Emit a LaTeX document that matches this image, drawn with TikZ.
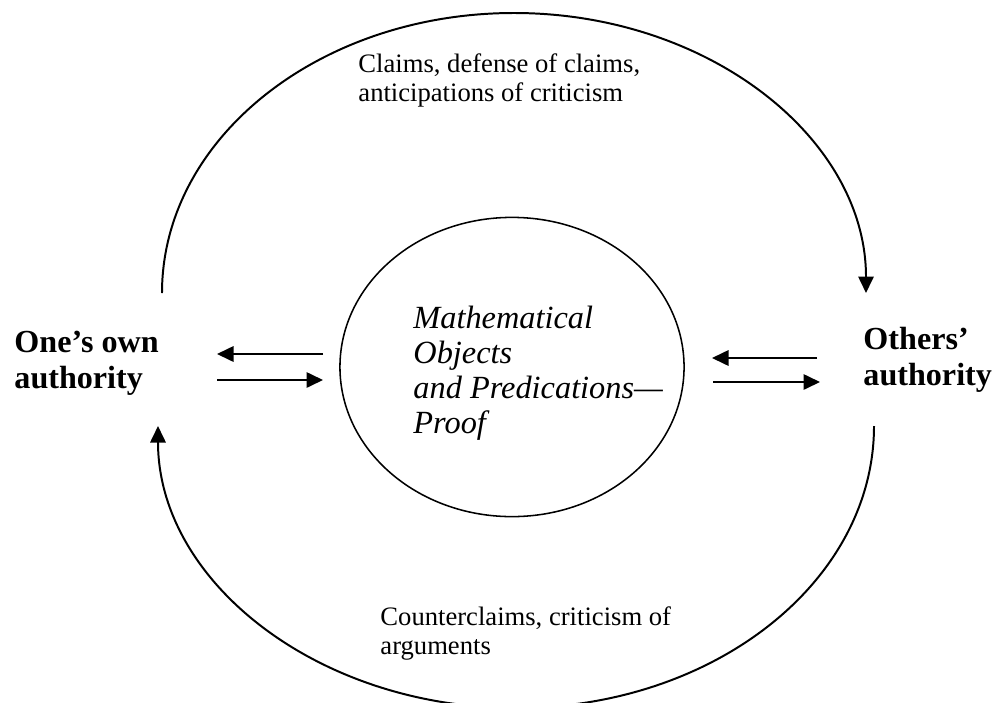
\documentclass[tikz,border=0pt]{standalone}
\usepackage{fontspec}
\setmainfont{Liberation Serif}
\usetikzlibrary{arrows.meta,shapes.geometric,positioning}
\tikzstyle{diag}=[x=0.4545pt, y=0.4545pt]
\tikzstyle{flow}=[-{Triangle[length=7.5pt,width=7pt]}, line width=0.9pt]
\tikzstyle{side}=[anchor=base west, align=left, inner sep=0,
                  font=\fontsize{14.6}{16}\selectfont\bfseries]
\tikzstyle{core}=[anchor=base west, align=left, inner sep=0,
                  font=\fontsize{14.7}{15.9}\selectfont\itshape]
\tikzstyle{note}=[anchor=base west, align=left, inner sep=0,
                  font=\fontsize{12.1}{12.8}\selectfont]

\begin{document}
\begin{tikzpicture}[diag]
  \useasboundingbox (0,0) rectangle (1004,702);
  \node[draw, ellipse, inner sep=0, line width=0.7pt,
        minimum width=156.4pt, minimum height=136pt] (ring) at (512,335) {};
  % multi-line nodes sit on the baseline of their last line
  \node[core] (objects) at (413,269) {Mathematical\\Objects\\and Predications—\\Proof};
  \node[side] (own) at (14,314) {One’s own\\authority};
  \node[side] (others) at (863,317) {Others’\\authority};
  \node[note] (claims) at (358,601) {Claims, defense of claims,\\anticipations of criticism};
  \node[note] (counter) at (380,48) {Counterclaims, criticism of\\arguments};
  % arrow ends
  \coordinate (ownUp) at (162,409);
  \coordinate (othersDown) at (874,276);
  \coordinate (lInA) at (323,348);
  \coordinate (lOutA) at (217,348);
  \coordinate (lInB) at (217,322);
  \coordinate (lOutB) at (323,322);
  \coordinate (rInA) at (817,344);
  \coordinate (rOutA) at (712,344);
  \coordinate (rInB) at (713,320);
  \coordinate (rOutB) at (820,320);
  \draw[flow] (ownUp) arc[start angle=180, end angle=0, x radius=352, y radius=280];
  \draw[flow] (othersDown) arc[start angle=0, end angle=-180, x radius=358, y radius=282];
  \path[flow]
    (lInA) edge (lOutA)
    (lInB) edge (lOutB)
    (rInA) edge (rOutA)
    (rInB) edge (rOutB);
\end{tikzpicture}
\end{document}
